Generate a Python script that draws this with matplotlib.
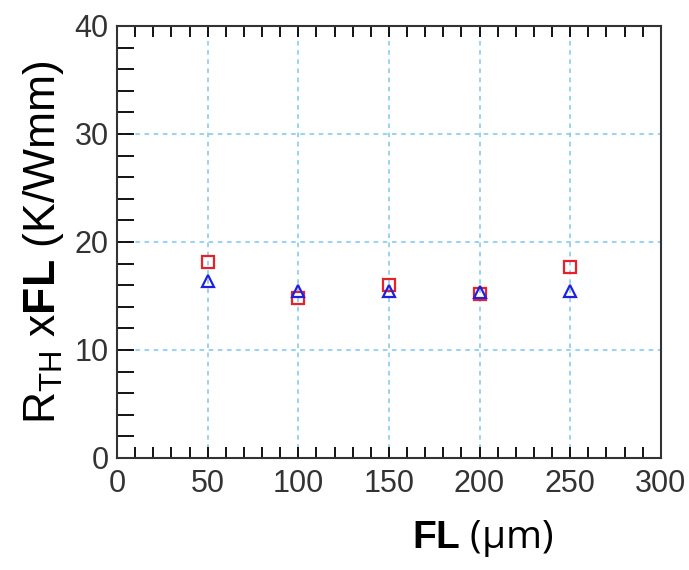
import matplotlib
matplotlib.use("Agg")
import matplotlib.pyplot as plt
from matplotlib.ticker import MultipleLocator

# data
fl = [50, 100, 150, 200, 250]
rth_square = [18.1, 14.8, 16.0, 15.2, 17.7]
rth_triangle = [16.4, 15.5, 15.5, 15.4, 15.5]

xticks = [0, 50, 100, 150, 200, 250, 300]
yticks = [0, 10, 20, 30, 40]

plt.rcParams['font.family'] = ['Liberation Sans', 'DejaVu Sans']
plt.rcParams['mathtext.fontset'] = 'custom'
plt.rcParams['mathtext.rm'] = 'Liberation Sans'
plt.rcParams['mathtext.bf'] = 'Liberation Sans:bold'

fig = plt.figure(figsize=(6.89, 5.70), dpi=100)
ax = fig.add_axes([0.170, 0.1965, 0.789, 0.758])

ax.plot(fl, rth_square, linestyle='none', marker='s', markersize=9,
        markerfacecolor='none', markeredgecolor='#e8202a', markeredgewidth=1.6)
ax.plot(fl, rth_triangle, linestyle='none', marker='^', markersize=9,
        markerfacecolor='none', markeredgecolor='#2020e0', markeredgewidth=1.6)

ax.set_xlim(0, 300)
ax.set_ylim(0, 40)
ax.set_xticks(xticks)
ax.set_yticks(yticks)
ax.xaxis.set_minor_locator(MultipleLocator(10))
ax.yaxis.set_minor_locator(MultipleLocator(2))
ax.tick_params(axis='x', which='both', direction='in', top=True, bottom=True,
               length=8, width=1.3, labelsize=22, pad=8, labelcolor='#333333')
ax.tick_params(axis='y', which='both', direction='in', left=True, right=False,
               length=12, width=1.3, labelsize=22, pad=6, labelcolor='#333333')
ax.grid(True, which='major', color='#7cc8ec', linestyle=(0, (3, 3)), linewidth=1.1)
for s in ax.spines.values():
    s.set_linewidth(1.5)
    s.set_color('#333333')

ax.set_ylabel(r'R$_{\mathregular{TH}}$ x$\mathbf{FL}$ (K/Wmm)', fontsize=32, labelpad=6)
fig.text(0.70, 0.055, r'$\mathbf{FL}$ ($\mathregular{\mu}$m)', fontsize=28,
         ha='center', va='center', family=['Open Sans', 'DejaVu Sans'])

fig.savefig('out.png', dpi=100)
